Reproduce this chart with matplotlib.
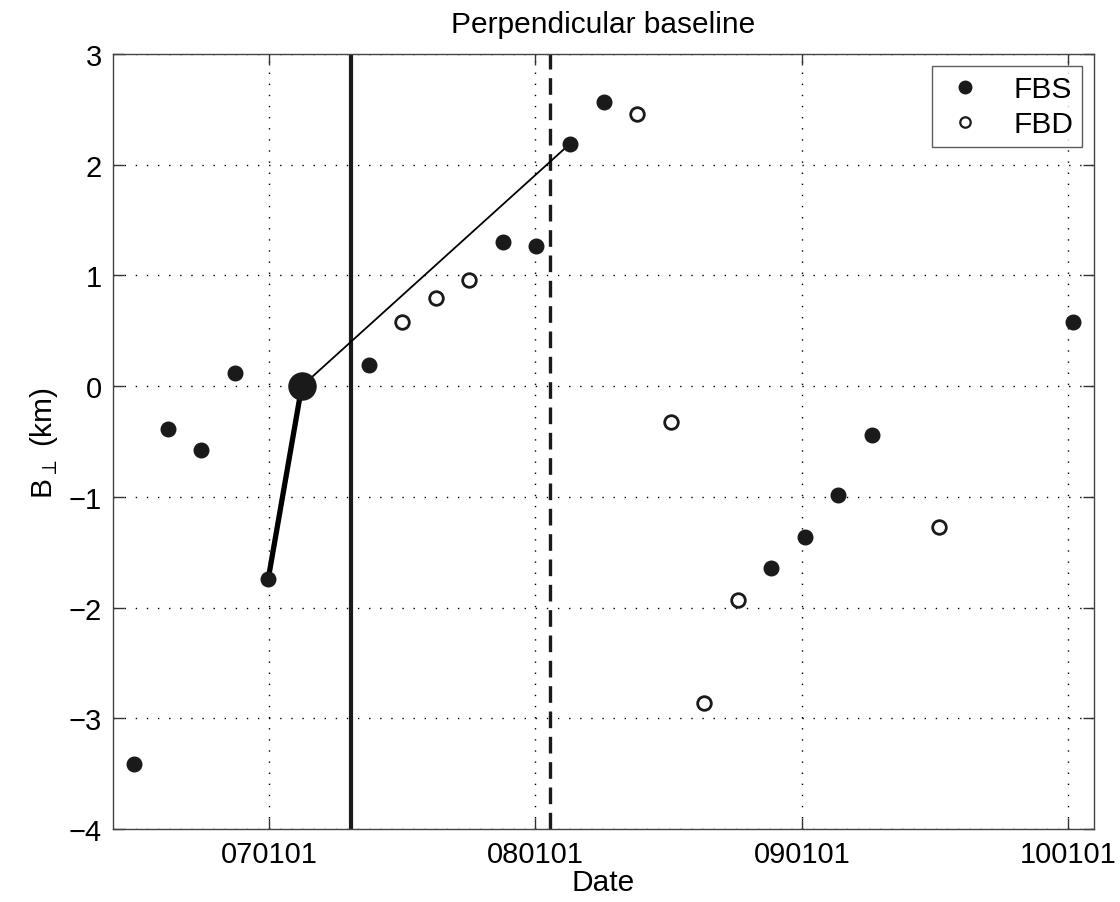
import matplotlib
matplotlib.use("Agg")
import matplotlib.pyplot as plt
import matplotlib.dates as mdates
import numpy as np
from datetime import datetime

plt.rcParams['font.family'] = ['Liberation Sans', 'DejaVu Sans']
plt.rcParams['mathtext.fontset'] = 'custom'
plt.rcParams['mathtext.rm'] = 'Liberation Sans'

# --- data ---
fbs_dates = ['2006-06-30', '2006-08-15', '2006-09-30', '2006-11-15', '2006-12-31',
             '2007-05-18', '2007-11-18', '2008-01-03', '2008-02-18', '2008-04-04',
             '2008-11-20', '2009-01-05', '2009-02-20', '2009-04-07', '2010-01-08']
fbs_bperp = [-3.41, -0.39, -0.58, 0.12, -1.74,
             0.19, 1.30, 1.27, 2.19, 2.57,
             -1.64, -1.36, -0.98, -0.44, 0.58]
fbd_dates = ['2007-07-03', '2007-08-18', '2007-10-03', '2008-05-20', '2008-07-05',
             '2008-08-20', '2008-10-05', '2009-07-08']
fbd_bperp = [0.58, 0.80, 0.96, 2.46, -0.32, -2.86, -1.93, -1.27]

master_date = '2007-02-15'
master_bperp = 0.0
thick_dates = ['2006-12-31', '2007-02-15']
thick_bperp = [-1.74, 0.0]
thin_dates = ['2007-02-15', '2008-02-18']
thin_bperp = [0.0, 2.19]
event_solid = '2007-04-23'
event_dashed = '2008-01-21'

xtick_dates = ['2007-01-01', '2008-01-01', '2009-01-01', '2010-01-01']
xtick_labels = ['070101', '080101', '090101', '100101']
yticks = [-4, -3, -2, -1, 0, 1, 2, 3]
xlim_dates = ['2006-06-01', '2010-02-06']


def d(s):
    return mdates.date2num(datetime.strptime(s, '%Y-%m-%d'))


def dl(lst):
    return [d(s) for s in lst]


fig = plt.figure(figsize=(11.2, 9.03), dpi=100)
ax = fig.add_axes([0.1009, 0.0808, 0.8759, 0.8582])

ax.axvline(d(event_solid), color='#1a1a1a', lw=3.0, zorder=2)
ax.axvline(d(event_dashed), color='#1a1a1a', lw=2.4, linestyle=(0, (5, 2.6)), zorder=2)

ax.plot(dl(thick_dates), thick_bperp, color='black', lw=3.8, solid_capstyle='butt', zorder=3)
ax.plot(dl(thin_dates), thin_bperp, color='black', lw=1.3, zorder=3)

ax.plot(dl(fbs_dates), fbs_bperp, linestyle='none', marker='o', markersize=10.5,
        markerfacecolor='#1a1a1a', markeredgecolor='#1a1a1a', label='FBS', zorder=4)
ax.plot(dl(fbd_dates), fbd_bperp, linestyle='none', marker='o', markersize=9.8,
        markerfacecolor='white', markeredgecolor='#1a1a1a', markeredgewidth=2.0,
        label='FBD', zorder=4)
ax.plot([d(master_date)], [master_bperp], linestyle='none', marker='o', markersize=19.5,
        markerfacecolor='#1a1a1a', markeredgecolor='#1a1a1a', zorder=5)

ax.set_xlim(d(xlim_dates[0]), d(xlim_dates[1]))
ax.set_ylim(-4, 3)
ax.set_xticks(dl(xtick_dates))
ax.set_xticklabels(xtick_labels)
ax.set_yticks(yticks)
ax.set_yticklabels([('\u2212%d' % abs(v)) if v < 0 else '%d' % v for v in yticks])

ax.grid(True, color='black', linestyle=(0, (1, 7)), lw=1.0)
ax.tick_params(direction='in', length=8, width=1.0, top=True, right=True,
               labelsize=21, color='#333333', pad=8)
for s in ax.spines.values():
    s.set_color('#444444')
    s.set_linewidth(1.0)

ax.set_title('Perpendicular baseline', fontsize=21.5, pad=16)
ax.set_xlabel('Date', fontsize=21.5, labelpad=0)
ax.set_ylabel(r'B$_{\perp}$ (km)', fontsize=21.5, labelpad=6)

leg = ax.legend(loc='upper right', fontsize=21.5, frameon=True, fancybox=False,
                edgecolor='#333333', borderpad=0.3, handletextpad=0.8,
                labelspacing=0.25, markerfirst=True, handlelength=1.6,
                borderaxespad=0.4)
leg.get_frame().set_linewidth(1.0)
leg.legend_handles[1].set_markersize(7.5)
leg.legend_handles[1].set_markeredgewidth(1.6)
leg.legend_handles[0].set_markersize(9)

fig.savefig('out.png', dpi=100)
